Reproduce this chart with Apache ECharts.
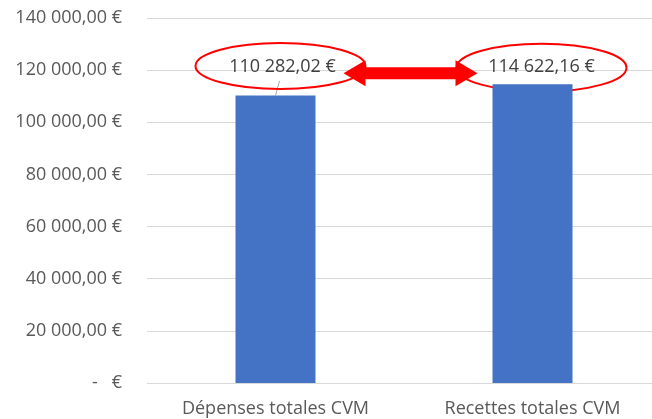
<!DOCTYPE html>
<html>
<head>
<meta charset="utf-8">
<script src="https://cdn.jsdelivr.net/npm/echarts@6/dist/echarts.min.js"></script>
<style>
  html, body { margin: 0; padding: 0; background: #fff; }
  #chart { width: 652px; height: 419px; }
</style>
</head>
<body>
<div id="chart"></div>
<script>
const categories = ['Dépenses totales CVM', 'Recettes totales CVM']
const values = [110282.02, 114622.16]
const yTicks = [0, 20000, 40000, 60000, 80000, 100000, 120000, 140000]

const euro = (v) => {
  if (v === 0) return '-   €'
  const parts = v.toFixed(2).split('.')
  const int = parts[0].replace(/\B(?=(\d{3})+(?!\d))/g, ' ')
  return int + ',' + parts[1] + ' €'
}

const font = '"Open Sans", "Noto Sans", sans-serif'
const chart = echarts.init(document.getElementById('chart'))

chart.setOption({
  animation: false,
  grid: { left: 147, width: 514, top: 18, bottom: 36, outerBoundsMode: 'none' },
  xAxis: {
    type: 'category',
    data: categories,
    axisLine: { show: false },
    axisTick: { show: false },
    axisLabel: { color: '#595959', fontSize: 18, fontFamily: font, margin: 17 },
  },
  yAxis: {
    type: 'value',
    min: yTicks[0],
    max: yTicks[yTicks.length - 1],
    interval: 20000,
    axisLabel: { color: '#595959', fontSize: 18, fontFamily: font, margin: 25, formatter: euro },
    splitLine: { lineStyle: { color: '#d9d9d9', width: 1 } },
  },
  series: [
    {
      type: 'bar',
      barWidth: 80,
      itemStyle: { color: '#4472c4' },
      data: values.map((v, i) => ({
        value: v,
        label: {
          show: true,
          position: 'top',
          offset: i === 0 ? [7, -15] : [9, -3],
          formatter: (p) => euro(p.value),
          color: '#404040',
          fontSize: 18,
          fontFamily: font,
        },
      })),
    },
  ],
})

// annotations: ellipses, leader line and double arrow
const p0 = chart.convertToPixel({ gridIndex: 0 }, [0, values[0]])
const p1 = chart.convertToPixel({ gridIndex: 0 }, [1, values[1]])
const e0 = { cx: p0[0] + 5, cy: p0[1] - 29.5, rx: 85, ry: 23 }
const e1 = { cx: p1[0] + 9, cy: p1[1] - 16.5, rx: 85, ry: 24 }
const ay = (e0.cy + e1.cy) / 2 + 6.5
const ax0 = e0.cx + e0.rx - 22
const ax1 = e1.cx - e1.rx + 21
const head = 22, half = 13, shaft = 6

chart.setOption({
  graphic: [
    {
      type: 'line',
      shape: { x1: p0[0] + 4, y1: e0.cy + 15, x2: p0[0], y2: p0[1] },
      style: { stroke: '#a6a6a6', lineWidth: 1 },
    },
    {
      type: 'ellipse',
      shape: e0,
      style: { fill: null, stroke: '#ff0000', lineWidth: 2 },
    },
    {
      type: 'ellipse',
      shape: e1,
      style: { fill: null, stroke: '#ff0000', lineWidth: 2 },
    },
    {
      type: 'polygon',
      shape: {
        points: [
          [ax0, ay],
          [ax0 + head, ay - half],
          [ax0 + head, ay - shaft],
          [ax1 - head, ay - shaft],
          [ax1 - head, ay - half],
          [ax1, ay],
          [ax1 - head, ay + half],
          [ax1 - head, ay + shaft],
          [ax0 + head, ay + shaft],
          [ax0 + head, ay + half],
        ],
      },
      style: { fill: '#ff0000' },
    },
  ],
})

window.addEventListener('resize', () => chart.resize())
</script>
</body>
</html>
